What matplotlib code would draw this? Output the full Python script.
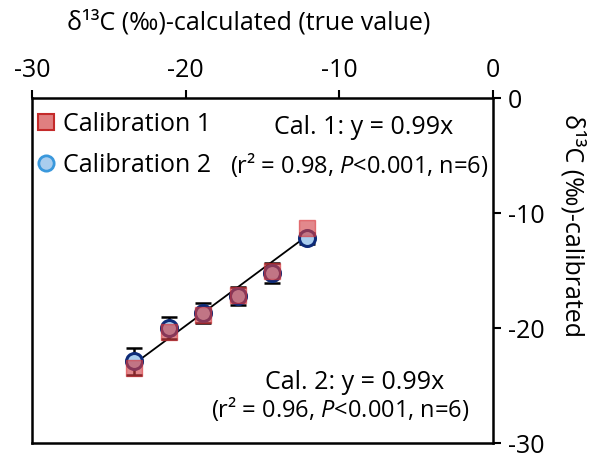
import numpy as np
import matplotlib
matplotlib.use("Agg")
import matplotlib.pyplot as plt
from matplotlib.lines import Line2D

plt.rcParams['font.family'] = ['Open Sans', 'DejaVu Sans']
plt.rcParams['mathtext.fontset'] = 'custom'
plt.rcParams['mathtext.it'] = 'Open Sans:italic'
plt.rcParams['axes.unicode_minus'] = False

# true (calculated) values and calibrated values
x_true = [-23.35, -21.1, -18.85, -16.6, -14.35, -12.1]
cal1 = [-23.5, -20.3, -18.9, -17.1, -15.0, -11.3]
cal2 = [-22.9, -20.0, -18.7, -17.2, -15.2, -12.2]
cal2_err = [1.2, 0.95, 0.9, 0.8, 0.85, 0.5]
slope = 0.99

fs = 18
fig = plt.figure(figsize=(5.97, 4.61), dpi=100)
ax = fig.add_axes([0.0536, 0.039, 0.772, 0.748])

# fit line
xl = np.array([min(x_true), max(x_true)])
ax.plot(xl, slope * xl, color='black', lw=1.3, zorder=2)

ax.errorbar(x_true, cal2, yerr=cal2_err, fmt='none', ecolor='black',
            elinewidth=1.8, capsize=5.5, capthick=1.8, zorder=3)
ax.plot(x_true, cal2, 'o', ms=11.5, mfc='#a9cdee', mec='#0d2b78', mew=2.2, zorder=4)
ax.plot(x_true, cal1, 's', ms=11.5, mfc=(0.82, 0.25, 0.27, 0.62),
        mec=(0.85, 0.2, 0.22, 0.6), mew=1.0, zorder=5)

ax.set_xlim(-30, 0)
ax.set_ylim(-30, 0)
ax.set_xticks([-30, -20, -10, 0])
ax.set_yticks([0, -10, -20, -30])
ax.xaxis.tick_top()
ax.yaxis.tick_right()
ax.xaxis.set_label_position('top')
ax.yaxis.set_label_position('right')
ax.tick_params(direction='out', length=6, width=1.5, labelsize=fs, pad=5)
for s in ax.spines.values():
    s.set_linewidth(1.8)

ax.set_xlabel('δ¹³C (‰)-calculated (true value)', fontsize=fs)
ax.xaxis.set_label_coords(0.47, 1.2)
ax.set_ylabel('δ¹³C (‰)-calibrated', fontsize=fs, rotation=-90)
ax.yaxis.set_label_coords(1.2, 0.63)

ax.text(0.72, 0.915, 'Cal. 1: y = 0.99x', transform=ax.transAxes,
        ha='center', va='center', fontsize=fs)
ax.text(0.711, 0.805, '(r² = 0.98, $\\mathit{P}$<0.001, n=6)', transform=ax.transAxes,
        ha='center', va='center', fontsize=17)
ax.text(0.70, 0.175, 'Cal. 2: y = 0.99x', transform=ax.transAxes,
        ha='center', va='center', fontsize=fs)
ax.text(0.668, 0.10, '(r² = 0.96, $\\mathit{P}$<0.001, n=6)', transform=ax.transAxes,
        ha='center', va='center', fontsize=17)

handles = [
    Line2D([], [], marker='s', ls='none', ms=11, mfc='#e07f80', mec='#c42a2a', mew=1.5),
    Line2D([], [], marker='o', ls='none', ms=11, mfc='#a9cdee', mec='#3a98dc', mew=2),
]
ax.legend(handles, ['Calibration 1', 'Calibration 2'], loc='upper left',
          bbox_to_anchor=(-0.034, 1.01), frameon=False, fontsize=fs,
          handlelength=1.0, handletextpad=0.15, labelspacing=0.62, borderaxespad=0.3)

fig.savefig('out.png', dpi=100)
